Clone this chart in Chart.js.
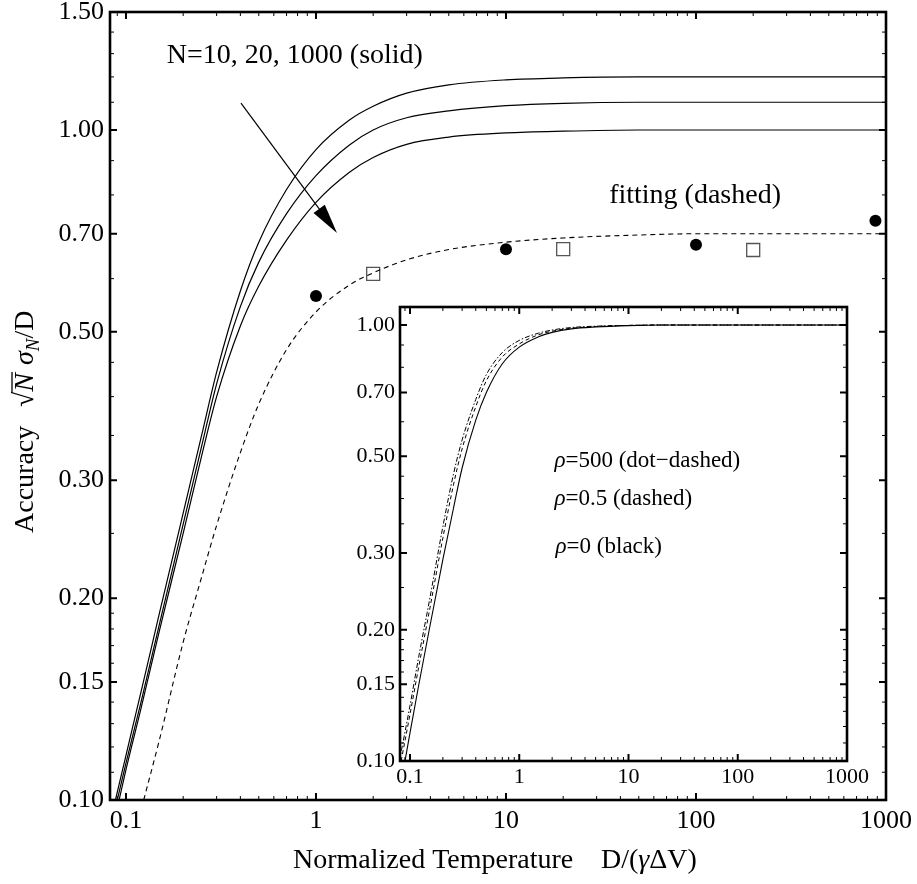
<!DOCTYPE html>
<html>
<head>
<meta charset="utf-8">
<script src="https://cdn.jsdelivr.net/npm/chart.js@4.4.1/dist/chart.umd.min.js"></script>
<style>
  html, body { margin: 0; padding: 0; background: #fff; }
  #wrap { position: relative; width: 917px; height: 884px; }
  #main { position: absolute; left: 0; top: 0; }
  #inset { position: absolute; left: 340px; top: 295px; }
</style>
</head>
<body>
<div id="wrap">
  <canvas id="main" width="917" height="884"></canvas>
  <canvas id="inset" width="540" height="510"></canvas>
</div>
<script>
// ---------------- data ----------------
// main plot: three solid curves (N = 10, 20, 1000)
const solidTopX = [0.088, 0.1, 0.12, 0.15, 0.2, 0.25, 0.3, 0.4, 0.5, 0.7, 1, 1.5, 2, 3, 5, 10, 20, 50, 1000];
const solidTopY = [0.1, 0.1166, 0.145, 0.19, 0.268, 0.35, 0.435, 0.575, 0.68, 0.815, 0.935, 1.035, 1.085, 1.135, 1.168, 1.188, 1.196, 1.2, 1.2];
const solidMidX = [0.09, 0.1, 0.12, 0.15, 0.2, 0.25, 0.3, 0.4, 0.5, 0.7, 1, 1.5, 2, 3, 5, 10, 20, 50, 1000];
const solidMidY = [0.1, 0.1135, 0.14, 0.183, 0.258, 0.337, 0.418, 0.545, 0.635, 0.75, 0.855, 0.95, 1.0, 1.043, 1.068, 1.087, 1.096, 1.1, 1.1];
const solidBotX = [0.092, 0.1, 0.12, 0.15, 0.2, 0.25, 0.3, 0.4, 0.5, 0.7, 1, 1.5, 2, 3, 5, 10, 20, 50, 1000];
const solidBotY = [0.1, 0.111, 0.137, 0.179, 0.25, 0.326, 0.40, 0.51, 0.585, 0.685, 0.78, 0.865, 0.91, 0.952, 0.976, 0.99, 0.996, 1.0, 1.0];
// fitting curve (dashed)
const fitX = [0.124, 0.15, 0.2, 0.25, 0.3, 0.4, 0.5, 0.7, 1, 1.5, 2, 3, 5, 10, 20, 50, 100, 1000];
const fitY = [0.1, 0.123, 0.172, 0.215, 0.257, 0.33, 0.39, 0.47, 0.535, 0.587, 0.612, 0.64, 0.663, 0.68, 0.69, 0.697, 0.7, 0.7];
// measured points
const dotX = [1, 10, 100, 880];
const dotY = [0.565, 0.664, 0.674, 0.732];
const squareX = [2, 20, 200];
const squareY = [0.61, 0.664, 0.662];

// inset: rho = 0 (solid), 0.5 (dashed), 500 (dot-dashed)
const rho0X = [0.09, 0.1, 0.12, 0.15, 0.2, 0.25, 0.3, 0.4, 0.5, 0.7, 1, 1.5, 2, 3, 5, 10, 20, 1000];
const rho0Y = [0.1, 0.116, 0.149, 0.2, 0.29, 0.38, 0.47, 0.605, 0.7, 0.815, 0.89, 0.94, 0.962, 0.98, 0.99, 0.997, 1.0, 1.0];
const rho05X = [0.083, 0.1, 0.12, 0.15, 0.2, 0.25, 0.3, 0.4, 0.5, 0.7, 1, 1.5, 2, 3, 5, 10, 20, 1000];
const rho05Y = [0.1, 0.128, 0.164, 0.22, 0.325, 0.43, 0.52, 0.65, 0.745, 0.845, 0.905, 0.95, 0.968, 0.983, 0.992, 0.998, 1.0, 1.0];
const rho500X = [0.08, 0.1, 0.12, 0.15, 0.2, 0.25, 0.3, 0.4, 0.5, 0.7, 1, 1.5, 2, 3, 5, 10, 20, 1000];
const rho500Y = [0.1, 0.134, 0.173, 0.232, 0.345, 0.455, 0.545, 0.675, 0.77, 0.865, 0.922, 0.958, 0.974, 0.987, 0.994, 0.998, 1.0, 1.0];

// ticks
const mainXTicks = [0.1, 1, 10, 100, 1000];
const mainXLabels = ['0.1', '1', '10', '100', '1000'];
const mainYTicks = [0.1, 0.15, 0.2, 0.3, 0.5, 0.7, 1.0, 1.5];
const mainYLabels = ['0.10', '0.15', '0.20', '0.30', '0.50', '0.70', '1.00', '1.50'];
const mainYMinor = [0.11, 0.12, 0.13, 0.14, 0.16, 0.17, 0.18, 0.19, 0.25, 0.35, 0.4, 0.45, 0.6, 0.8, 0.9, 1.1, 1.2, 1.3, 1.4];
const insetYTicks = [0.1, 0.15, 0.2, 0.3, 0.5, 0.7, 1.0];
const insetYLabels = ['0.10', '0.15', '0.20', '0.30', '0.50', '0.70', '1.00'];
const insetYMinor = [0.11, 0.12, 0.13, 0.14, 0.16, 0.17, 0.18, 0.19, 0.25, 0.35, 0.4, 0.45, 0.6, 0.8, 0.9];
const xMinorMult = [2, 3, 4, 5, 6, 7, 8, 9];

// text
const annN = 'N=10, 20, 1000 (solid)';
const annFit = 'fitting (dashed)';
const xTitleA = 'Normalized Temperature';
const xTitleB = 'D/(';
const yTitleA = 'Accuracy';
const insetAnn = [['ρ', '=500 (dot\u2212dashed)'], ['ρ', '=0.5 (dashed)'], ['ρ', '=0 (black)']];

// ---------------- helpers ----------------
const pts = (xs, ys) => xs.map((x, i) => ({x: x, y: ys[i]}));
function xMinors(lo, hi) {
  const out = [];
  for (let d = 0.01; d <= 1000; d *= 10) for (const m of xMinorMult) { const v = +(m * d).toPrecision(3); if (v > lo && v < hi) out.push(v); }
  return out;
}
const SERIF = '"Liberation Serif", "DejaVu Serif", serif';

const frameTicks = {
  id: 'frameTicks',
  beforeDraw(chart, args, o) {
    if (!o.bg) return;
    const a = chart.chartArea, ctx = chart.ctx;
    ctx.save(); ctx.fillStyle = '#fff'; ctx.fillRect(a.left, a.top, a.width, a.height); ctx.restore();
  },
  afterDraw(chart, args, o) {
    const {ctx, chartArea: a} = chart;
    const xs = chart.scales.x, ys = chart.scales.y;
    ctx.save();
    ctx.strokeStyle = '#000';
    ctx.lineCap = 'butt';
    const tx = (vals, len, w) => {
      ctx.lineWidth = w;
      vals.forEach(v => {
        const p = xs.getPixelForValue(v);
        if (p < a.left + 1 || p > a.right - 1) return;
        ctx.beginPath();
        ctx.moveTo(p, a.bottom); ctx.lineTo(p, a.bottom - len);
        ctx.moveTo(p, a.top); ctx.lineTo(p, a.top + len);
        ctx.stroke();
      });
    };
    const ty = (vals, len, w) => {
      ctx.lineWidth = w;
      vals.forEach(v => {
        const p = ys.getPixelForValue(v);
        if (p < a.top + 1 || p > a.bottom - 1) return;
        ctx.beginPath();
        ctx.moveTo(a.left, p); ctx.lineTo(a.left + len, p);
        ctx.moveTo(a.right, p); ctx.lineTo(a.right - len, p);
        ctx.stroke();
      });
    };
    tx(o.xMinor, o.minorLen, 1);
    tx(o.xMajor, o.majorLen, 2);
    ty(o.yMinor, o.minorLen, 1);
    ty(o.yMajor, o.majorLen, 2);
    ctx.lineWidth = o.frameWidth;
    ctx.strokeRect(a.left, a.top, a.width, a.height);
    ctx.restore();
  }
};

// annotations for main chart
const mainAnn = {
  id: 'mainAnn',
  afterDraw(chart) {
    const {ctx} = chart;
    const xs = chart.scales.x, ys = chart.scales.y;
    ctx.save();
    ctx.fillStyle = '#000';
    ctx.textBaseline = 'alphabetic';
    ctx.font = '28px ' + SERIF;
    ctx.fillText(annN, xs.getPixelForValue(0.164), ys.getPixelForValue(1.259));
    ctx.fillText(annFit, xs.getPixelForValue(34.9), ys.getPixelForValue(0.778));
    // arrow
    const x0 = xs.getPixelForValue(0.403), y0 = ys.getPixelForValue(1.097);
    const x1 = xs.getPixelForValue(1.29), y1 = ys.getPixelForValue(0.702);
    const ang = Math.atan2(y1 - y0, x1 - x0);
    const hl = 30, hw = 7;
    ctx.strokeStyle = '#000'; ctx.lineWidth = 1.2;
    ctx.beginPath(); ctx.moveTo(x0, y0);
    ctx.lineTo(x1 - Math.cos(ang) * hl * 0.8, y1 - Math.sin(ang) * hl * 0.8); ctx.stroke();
    const bx = x1 - Math.cos(ang) * hl, by = y1 - Math.sin(ang) * hl;
    ctx.beginPath();
    ctx.moveTo(x1, y1);
    ctx.lineTo(bx + Math.sin(ang) * hw, by - Math.cos(ang) * hw);
    ctx.lineTo(bx - Math.sin(ang) * hw, by + Math.cos(ang) * hw);
    ctx.closePath(); ctx.fill();

    // x title
    ctx.font = '28px ' + SERIF;
    const base = 868;
    ctx.fillText(xTitleA, 293, base);
    let xp = 601;
    ctx.fillText(xTitleB, xp, base); xp += ctx.measureText(xTitleB).width;
    ctx.font = 'italic 28px ' + SERIF;
    ctx.fillText('γ', xp, base); xp += ctx.measureText('γ').width;
    ctx.font = '28px ' + SERIF;
    ctx.fillText('ΔV)', xp, base);

    // y title (rotated)
    ctx.translate(33, 533);
    ctx.rotate(-Math.PI / 2);
    ctx.font = '28px ' + SERIF;
    ctx.fillText(yTitleA, 0, 0);
    let p = 126;
    ctx.fillText('√', p, 0);
    p += ctx.measureText('√').width;
    ctx.font = 'italic 28px ' + SERIF;
    const nw = ctx.measureText('N').width;
    ctx.fillText('N', p, 0);
    ctx.lineWidth = 1.3;
    ctx.beginPath(); ctx.moveTo(p - 1, -21); ctx.lineTo(p + nw + 1, -21); ctx.stroke();
    p += nw + 8;
    ctx.fillText('σ', p, 0); p += ctx.measureText('σ').width;
    ctx.font = 'italic 19px ' + SERIF;
    ctx.fillText('N', p, 6); p += ctx.measureText('N').width;
    ctx.font = '28px ' + SERIF;
    ctx.fillText('/D', p, 0);
    ctx.restore();
  }
};

const insetAnnPlugin = {
  id: 'insetAnn',
  afterDraw(chart) {
    const {ctx} = chart;
    const xs = chart.scales.x, ys = chart.scales.y;
    const pos = [[2.1, 0.472], [2.1, 0.386], [2.15, 0.300]];
    ctx.save();
    ctx.fillStyle = '#000';
    insetAnn.forEach((t, i) => {
      let px = xs.getPixelForValue(pos[i][0]);
      const py = ys.getPixelForValue(pos[i][1]);
      ctx.font = 'italic 23px ' + SERIF;
      ctx.fillText(t[0], px, py); px += ctx.measureText(t[0]).width;
      ctx.font = '23px ' + SERIF;
      ctx.fillText(t[1], px, py);
    });
    ctx.restore();
  }
};

function logAxis(min, max, ticks, labels, fontSize, pad, fit) {
  return {
    type: 'logarithmic',
    min: min, max: max,
    afterBuildTicks: (ax) => { ax.ticks = ticks.map(v => ({value: v})); },
    afterFit: (ax) => { fit(ax); ax.paddingTop = 0; ax.paddingBottom = 0; ax.paddingLeft = 0; ax.paddingRight = 0; },
    grid: {display: false, drawTicks: false},
    border: {display: false},
    ticks: {
      autoSkip: false, maxRotation: 0, padding: pad,
      color: '#000',
      font: {family: SERIF, size: fontSize},
      callback: (v, i) => labels[i]
    }
  };
}

const lineDs = (data, dash, w) => ({
  type: 'line', data: data, borderColor: '#000', borderWidth: w,
  borderDash: dash, pointRadius: 0, fill: false, cubicInterpolationMode: 'monotone'
});

Chart.defaults.animation = false;
Chart.defaults.responsive = false;

new Chart(document.getElementById('main'), {
  type: 'line',
  data: {
    datasets: [
      lineDs(pts(solidTopX, solidTopY), [], 1.2),
      lineDs(pts(solidMidX, solidMidY), [], 1.2),
      lineDs(pts(solidBotX, solidBotY), [], 1.2),
      lineDs(pts(fitX, fitY), [5, 4], 1.1),
      {type: 'scatter', data: pts(dotX, dotY), pointStyle: 'circle', pointRadius: 6,
       backgroundColor: '#000', borderColor: '#000', borderWidth: 0},
      {type: 'scatter', data: pts(squareX, squareY), pointStyle: 'rect', pointRadius: 9.2,
       backgroundColor: '#fff', borderColor: '#555', borderWidth: 1.3}
    ]
  },
  options: {
    parsing: false,
    layout: {padding: {left: 0, right: 31, top: 12, bottom: 0}},
    plugins: {
      legend: {display: false}, tooltip: {enabled: false},
      frameTicks: {xMajor: mainXTicks, xMinor: xMinors(0.08, 1000), yMajor: mainYTicks, yMinor: mainYMinor,
                   majorLen: 7, minorLen: 4, frameWidth: 2.6, bg: false}
    },
    scales: {
      x: logAxis(0.0824, 1000, mainXTicks, mainXLabels, 26, 6, (ax) => { ax.height = 84; }),
      y: logAxis(0.1, 1.5, mainYTicks, mainYLabels, 26, 6, (ax) => { ax.width = 110; })
    }
  },
  plugins: [frameTicks, mainAnn]
});

new Chart(document.getElementById('inset'), {
  type: 'line',
  data: {
    datasets: [
      lineDs(pts(rho0X, rho0Y), [], 1.1),
      lineDs(pts(rho05X, rho05Y), [4, 3], 1.0),
      lineDs(pts(rho500X, rho500Y), [5, 2, 1.5, 2], 1.0)
    ]
  },
  options: {
    parsing: false,
    layout: {padding: {left: 0, right: 33, top: 12, bottom: 0}},
    plugins: {
      legend: {display: false}, tooltip: {enabled: false},
      frameTicks: {xMajor: mainXTicks, xMinor: xMinors(0.08, 1000), yMajor: insetYTicks, yMinor: insetYMinor,
                   majorLen: 7, minorLen: 4, frameWidth: 2.6, bg: true}
    },
    scales: {
      x: logAxis(0.081, 1000, mainXTicks, mainXLabels, 22, 3, (ax) => { ax.height = 44; }),
      y: logAxis(0.1, 1.1, insetYTicks, insetYLabels, 22, 5, (ax) => { ax.width = 60; })
    }
  },
  plugins: [frameTicks, insetAnnPlugin]
});
</script>
</body>
</html>
